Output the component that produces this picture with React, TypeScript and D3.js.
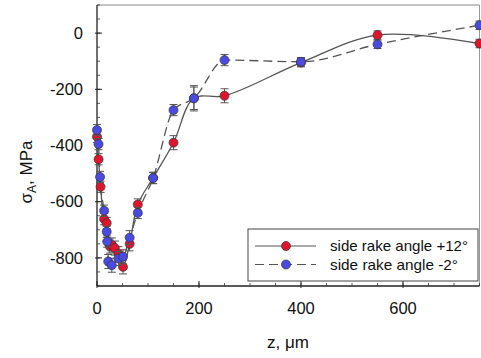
import React from "react";
import * as d3 from "d3";

const redZ = [0, 3, 7, 14, 19, 25, 29, 35, 42, 51, 64, 80, 110, 150, 190, 250, 400, 550, 750];
const redS = [-369, -449, -547, -662, -676, -758, -754, -765, -785, -832, -750, -610, -515, -390, -232, -223, -105, -7, -37];
const redE = [20, 20, 20, 20, 20, 25, 25, 25, 25, 25, 25, 20, 20, 25, 40, 25, 15, 15, 15];

const blueZ = [0, 3, 6, 14, 19, 20, 22, 29, 42, 51, 64, 80, 110, 150, 190, 250, 400, 550, 750];
const blueS = [-345, -395, -512, -632, -707, -742, -813, -826, -802, -796, -728, -640, -516, -274, -232, -96, -102, -40, 28];
const blueE = [20, 20, 20, 20, 20, 20, 25, 25, 25, 25, 25, 20, 20, 20, 45, 20, 15, 15, 15];

const xTicks = [0, 200, 400, 600];
const yTicks = [-800, -600, -400, -200, 0];
const legendLabels = ["side rake angle +12°", "side rake angle -2°"];

const W = 481, H = 358;
const L = 97, R = 479.5, T = 5, B = 286;

export default function App() {
  const x = d3.scaleLinear().domain([0, 750]).range([L, R]);
  const y = d3.scaleLinear().domain([-900, 100]).range([B, T]);
  const mk = (curve: any) =>
    d3
      .line<[number, number]>()
      .x((d) => x(d[0]))
      .y((d) => y(d[1]))
      .curve(curve);

  const series = [
    { z: redZ, s: redS, e: redE, fill: "#e0142c", dash: undefined as string | undefined, curve: d3.curveCatmullRom.alpha(0.5) },
    { z: blueZ, s: blueS, e: blueE, fill: "#4a4ae0", dash: "9,5", curve: d3.curveMonotoneX },
  ];

  const xMinor = d3.range(0, 751, 50);
  const yMinor = d3.range(-900, 101, 50);
  const font = "Arial, 'Liberation Sans', sans-serif";

  return (
    <svg width={W} height={H} style={{ position: "absolute", left: 0, top: 0, background: "#fff" }} fontFamily={font}>
      <rect x={0} y={0} width={W} height={H} fill="#fff" />
      <line x1={L} y1={T} x2={R} y2={T} stroke="#888" strokeWidth={1.2} />
      <line x1={R} y1={T} x2={R} y2={B} stroke="#999" strokeWidth={1} />
      <line x1={L} y1={T} x2={L} y2={B} stroke="#222" strokeWidth={1.3} />
      <line x1={L} y1={B} x2={R} y2={B} stroke="#222" strokeWidth={1.3} />
      {yMinor.map((v) => (
        <line key={"ym" + v} x1={L} x2={L + 3} y1={y(v)} y2={y(v)} stroke="#333" strokeWidth={0.8} />
      ))}
      {yTicks.map((v) => (
        <g key={"y" + v}>
          <line x1={L - 2} x2={L + 5} y1={y(v)} y2={y(v)} stroke="#222" strokeWidth={1} />
          <text x={L - 14} y={y(v)} dy="0.35em" textAnchor="end" fontSize={16.5} fill="#111">
            {v}
          </text>
        </g>
      ))}
      {xMinor.map((v) => (
        <line key={"xm" + v} x1={x(v)} x2={x(v)} y1={B} y2={B - 3} stroke="#333" strokeWidth={0.8} />
      ))}
      {xTicks.map((v) => (
        <g key={"x" + v}>
          <line x1={x(v)} x2={x(v)} y1={B + 2} y2={B - 5} stroke="#222" strokeWidth={1} />
          <text x={x(v)} y={B + 22} dy="0.35em" textAnchor="middle" fontSize={16.5} fill="#111">
            {v}
          </text>
        </g>
      ))}
      <text x={288} y={342} dy="0.35em" textAnchor="middle" fontSize={17} fill="#111">
        z, μm
      </text>
      <text transform={`translate(26,172) rotate(-90)`} textAnchor="middle" fontSize={17} fill="#111" dy="0.35em">
        σ<tspan fontSize={12} dy="4">A</tspan>
        <tspan dy="-4">, MPa</tspan>
      </text>
      {series.map((sr, i) => (
        <path
          key={"l" + i}
          d={mk(sr.curve)(sr.z.map((z, j) => [z, sr.s[j]] as [number, number])) || ""}
          fill="none"
          stroke="#555"
          strokeWidth={1.3}
          strokeDasharray={sr.dash}
        />
      ))}
      {series.map((sr, i) => (
        <g key={"p" + i}>
          {sr.z.map((z, j) => (
            <g key={j}>
              <line x1={x(z)} x2={x(z)} y1={y(sr.s[j] - sr.e[j])} y2={y(sr.s[j] + sr.e[j])} stroke="#555" strokeWidth={1} />
              <line x1={x(z) - 4} x2={x(z) + 4} y1={y(sr.s[j] - sr.e[j])} y2={y(sr.s[j] - sr.e[j])} stroke="#555" strokeWidth={1} />
              <line x1={x(z) - 4} x2={x(z) + 4} y1={y(sr.s[j] + sr.e[j])} y2={y(sr.s[j] + sr.e[j])} stroke="#555" strokeWidth={1} />
            </g>
          ))}
          {sr.z.map((z, j) => (
            <circle key={"c" + j} cx={x(z)} cy={y(sr.s[j])} r={4.5} fill={sr.fill} stroke="#333" strokeWidth={0.7} />
          ))}
        </g>
      ))}
      <g>
        <rect x={248} y={229} width={230} height={52} fill="#fff" stroke="#444" strokeWidth={1} />
        {legendLabels.map((lab, i) => (
          <g key={lab}>
            <line x1={255} x2={316} y1={246 + i * 18.5} y2={246 + i * 18.5} stroke="#555" strokeWidth={1.2} strokeDasharray={series[i].dash} />
            <circle cx={286} cy={246 + i * 18.5} r={4.5} fill={series[i].fill} stroke="#333" strokeWidth={0.7} />
            <text x={330} y={246 + i * 18.5} dy="0.35em" fontSize={15} fill="#111" textLength={i === 0 ? 138 : 128} lengthAdjust="spacingAndGlyphs">
              {lab}
            </text>
          </g>
        ))}
      </g>
    </svg>
  );
}
